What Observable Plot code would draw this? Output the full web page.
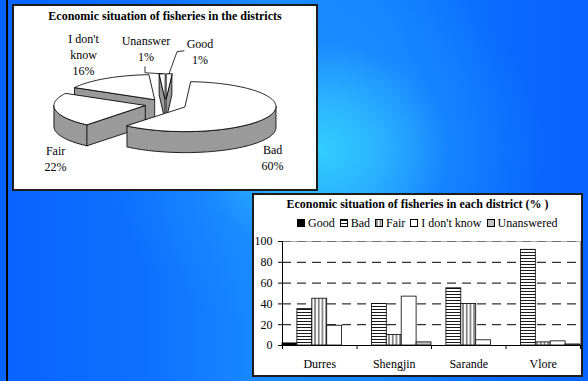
<!DOCTYPE html>
<html>
<head>
<meta charset="utf-8">
<script src="https://cdn.jsdelivr.net/npm/d3@7"></script>
<script src="https://cdn.jsdelivr.net/npm/@observablehq/plot@0.6"></script>
<style>
  html, body { margin: 0; padding: 0; }
  body { width: 588px; height: 381px; overflow: hidden; }
  #page {
    position: relative; width: 588px; height: 381px; overflow: hidden;
    font-family: "Liberation Serif", "Times New Roman", serif;
    background:
      radial-gradient(ellipse 220px 190px at 322px 150px, rgba(52,204,255,1) 0%, rgba(44,184,255,0.92) 25%, rgba(28,140,255,0.6) 58%, rgba(10,102,255,0) 100%),
      linear-gradient(90deg, #0764ff 0%, #0e70ff 25%, #1a8aff 45%, #1484ff 65%, #0a6aff 85%, #0764ff 100%);
  }
  .edge { position: absolute; left: 6px; top: 0; width: 2px; height: 381px; background: #000; }
  .panel { position: absolute; background: #fff; border: 2px solid #1c1c1c; box-sizing: border-box; }
  .title { position: absolute; font-weight: bold; font-size: 12px; line-height: 14px; text-align: center; white-space: nowrap; color: #000; }
  .legend { position: absolute; display: flex; align-items: center; gap: 5px; font-size: 12px; line-height: 14px; white-space: nowrap; color: #000; }
  .legend .item { display: flex; align-items: center; gap: 3px; }
  .legend svg { display: block; }
  .chart { position: absolute; }
</style>
</head>
<body>
<div id="page">
  <svg width="0" height="0" style="position:absolute">
    <defs>
      <pattern id="hatch-h" patternUnits="userSpaceOnUse" width="4" height="3">
        <rect width="4" height="3" fill="#fff"></rect>
        <line x1="0" y1="1.5" x2="4" y2="1.5" stroke="#000" stroke-width="0.9"></line>
      </pattern>
      <pattern id="hatch-v" patternUnits="userSpaceOnUse" width="3.7" height="4">
        <rect width="3.7" height="4" fill="#fff"></rect>
        <line x1="1.85" y1="0" x2="1.85" y2="4" stroke="#000" stroke-width="0.9"></line>
      </pattern>
    </defs>
  </svg>
  <div class="edge"></div>
  <div class="panel" style="left:12px;top:4px;width:306px;height:187px"></div>
  <div class="panel" style="left:252px;top:193px;width:331px;height:184px"></div>
  <div class="chart" id="pie" style="left:14px;top:6px"></div>
  <div class="title" style="left:14px;top:9px;width:302px">Economic situation of fisheries in the districts</div>
  <div class="title" style="left:254px;top:197px;width:327px">Economic situation of fisheries in each district (% )</div>
  <div class="legend" id="legend" style="left:297px;top:216px"></div>
  <div class="chart" id="bars" style="left:254px;top:230px"></div>
</div>
<script>
// Overall answers, all districts (percent)
const pieNames = ["Good", "Bad", "Fair", "I don't\nknow", "Unanswer"];
const pieShares = [1, 60, 22, 16, 1];

// Answers per district (percent)
const districts = ["Durres", "Shengjin", "Sarande", "Vlore"];
const answers = ["Good", "Bad", "Fair", "I don't know", "Unanswered"];
const good = [2, 0, 0, 0];
const bad = [35, 40, 55, 92];
const fair = [45, 10, 40, 3];
const dontKnow = [19, 47, 5, 4];
const unanswered = [0, 3, 0, 1];
const yTicks = [0, 20, 40, 60, 80, 100];

const answerFills = ["#000", "url(#hatch-h)", "url(#hatch-v)", "#fff", "#c0c0c0"];

// ---------- 3-D exploded pie ----------
const RX = 91;              // pixels per radius unit
const TILT = 25 / 91;       // vertical squash of the top face
const DEPTH = 21 / 91;      // thickness of the slab
const EXPLODE = 0.23;       // how far each slice is pulled out
const PIE_W = 302, PIE_H = 183, CX = 151, CY = 98;

const total = d3.sum(pieShares);
let run = 0;
const slices = pieShares.map((share, i) => {
  const a0 = run / total * 2 * Math.PI; run += share;
  const a1 = run / total * 2 * Math.PI;
  const am = (a0 + a1) / 2;
  return {i, name: pieNames[i], share, a0, a1, am,
          ox: EXPLODE * Math.sin(am), oz: EXPLODE * Math.cos(am)};
});
// angle measured clockwise from 12 o'clock; h pushes down to the bottom face
const at = (s, r, a, h = 0) => ({u: s.ox + r * Math.sin(a), v: -(s.oz + r * Math.cos(a)) * TILT + h});
const arc = (s, b0, b1, h) => {
  const n = Math.max(2, Math.ceil((b1 - b0) / (Math.PI / 90)));
  return d3.range(n + 1).map(k => at(s, 1, b0 + (b1 - b0) * k / n, h));
};

const sideFaces = [];
const topFaces = [];
for (const s of slices) {
  const b0 = Math.max(s.a0, Math.PI / 2), b1 = Math.min(s.a1, 3 * Math.PI / 2);
  if (b1 > b0) sideFaces.push([...arc(s, b0, b1, 0), ...arc(s, b0, b1, DEPTH).reverse()]);
  const cut = a => [at(s, 0, a, 0), at(s, 1, a, 0), at(s, 1, a, DEPTH), at(s, 0, a, DEPTH)];
  if (Math.sin(s.a0) < -1e-9) sideFaces.push(cut(s.a0));
  if (Math.sin(s.a1) > 1e-9) sideFaces.push(cut(s.a1));
  topFaces.push([at(s, 0, 0, 0), ...arc(s, s.a0, s.a1, 0)]);
}
// back-to-front
sideFaces.sort((p, q) => d3.max(p, d => d.v) - d3.max(q, d => d.v));
const sideRows = sideFaces.flatMap((pts, j) => pts.map(p => ({...p, id: "side" + j})));
const topRows = topFaces.flatMap((pts, j) => pts.map(p => ({...p, id: "top" + j})));

// label placement relative to each slice's outer rim (pixels)
const labelNudge = {"Good": [31, -23], "Bad": [3, 41], "Fair": [0, 48], "I don't\nknow": [-22, -25], "Unanswer": [-16, -26]};
const leaderElbows = {"Good": [[-16, 0], [-23, 1]], "Unanswer": [[-1, 19], [-1, 25]]};
const labelRows = slices.map(s => {
  const rim = at(s, 1, s.am, 0);
  const [dx, dy] = labelNudge[s.name];
  return {u: rim.u + dx / RX, v: rim.v + dy / RX, rim, name: s.name, text: `${s.name}\n${s.share}%`};
});
const leaderRows = labelRows.filter(l => leaderElbows[l.name]).flatMap(l => [
  ...leaderElbows[l.name].map(([dx, dy]) => ({u: l.u + dx / RX, v: l.v + dy / RX, id: l.name})),
  {u: l.rim.u, v: l.rim.v, id: l.name}
]);

const piePlot = Plot.plot({
  width: PIE_W, height: PIE_H,
  x: {type: "linear", domain: [0, 1], range: [CX, CX + RX], axis: null},
  y: {type: "linear", domain: [0, 1], range: [CY, CY + RX], axis: null},
  style: {background: "none", fontFamily: "Liberation Serif, Times New Roman, serif", fontSize: "12px", overflow: "visible"},
  marks: [
    Plot.line(sideRows, {x: "u", y: "v", z: "id", curve: "linear-closed", fill: "#9a9a9a", stroke: "#000", strokeWidth: 0.85, strokeLinejoin: "round"}),
    Plot.line(topRows, {x: "u", y: "v", z: "id", curve: "linear-closed", fill: "#fff", stroke: "#000", strokeWidth: 0.85, strokeLinejoin: "round"}),
    Plot.line(leaderRows, {x: "u", y: "v", z: "id", stroke: "#000", strokeWidth: 0.8}),
    Plot.text(labelRows, {x: "u", y: "v", text: "text", lineHeight: 1.33, fontSize: 12, fill: "#000"})
  ]
});
document.getElementById("pie").append(piePlot);

// ---------- grouped bars per district ----------
const series = [good, bad, fair, dontKnow, unanswered];
const barRows = districts.flatMap((d, i) => answers.map((a, j) => ({
  district: d, answer: a, value: series[j][i], slot: i * answers.length + j
})));
const slots = districts.length * answers.length;

const barPlot = Plot.plot({
  width: 327, height: 145,
  marginLeft: 28, marginRight: 1, marginTop: 11, marginBottom: 30,
  x: {type: "linear", domain: [0, slots], label: null},
  y: {type: "linear", domain: [0, 100], label: null},
  color: {type: "ordinal", domain: answers, range: answerFills},
  style: {background: "none", fontFamily: "Liberation Serif, Times New Roman, serif", fontSize: "12px", color: "#000", overflow: "visible"},
  marks: [
    Plot.ruleY([100], {stroke: "#b0b0b0", strokeWidth: 1.2}),
    Plot.ruleY([100], {stroke: "#707070", strokeDasharray: "9,6"}),
    Plot.ruleY(yTicks.filter(t => t > 0 && t < 100), {stroke: "#000", strokeDasharray: "9,6"}),
    Plot.ruleX([slots], {stroke: "#a0a0a0"}),
    Plot.rect(barRows.filter(r => r.value > 0), {
      x1: "slot", x2: r => r.slot + 1, y1: () => 0, y2: "value",
      fill: "answer", stroke: "#000", strokeWidth: 0.8
    }),
    Plot.ruleY([0], {stroke: "#000"}),
    Plot.ruleX([0], {stroke: "#000"}),
    Plot.axisY({ticks: yTicks, tickSize: 4, tickPadding: 6, fontSize: 12, label: null}),
    Plot.axisX({ticks: d3.range(0, slots + 1, answers.length), tickSize: 4, tickFormat: () => "", label: null}),
    Plot.axisX({ticks: districts.map((d, i) => (i + 0.5) * answers.length), tickSize: 0, tickPadding: 14, fontSize: 12,
                tickFormat: v => districts[Math.round(v / answers.length - 0.5)], label: null})
  ]
});
document.getElementById("bars").append(barPlot);

// legend above the bars
const legend = d3.select("#legend");
answers.forEach((a, j) => {
  const item = legend.append("span").attr("class", "item");
  const sw = item.append("svg").attr("width", 8).attr("height", 8);
  sw.append("rect").attr("x", 0.5).attr("y", 0.5).attr("width", 7).attr("height", 7)
    .attr("fill", answerFills[j]).attr("stroke", "#000").attr("stroke-width", 1);
  item.append("span").text(a);
});
</script>
</body>
</html>
